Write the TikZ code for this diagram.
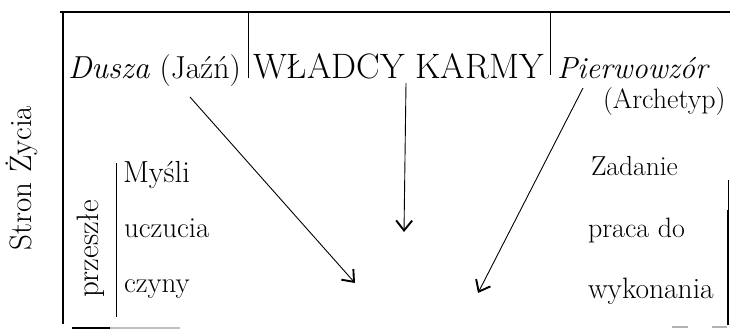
\documentclass[tikz,border=0pt]{standalone}
\usetikzlibrary{arrows.meta}
\begin{document}
\begin{tikzpicture}[x=1pt,y=-1pt,
  frame/.style={line width=2.8pt,line cap=butt},
  thin/.style={line width=1pt},
  lbl/.style={inner sep=0pt,outer sep=0pt,anchor=base west},
  fs/.style={font=\fontsize{#1}{#1}\selectfont},
  arr/.style={line width=0.9pt,-{Straight Barb[length=10pt,width=16pt,line width=1.9pt]}}]
\useasboundingbox (0,0) rectangle (730,330);
% frame
\draw[frame] (60,12) -- (730,12);
\draw[frame] (63,11) -- (63,324);
\draw[thin] (728,180) -- (728,210);
\draw[frame] (728,210) -- (728,325);
\draw[frame] (72,328) -- (110,328);
\draw[line width=2pt,black!25] (110,328) -- (180,328);
\draw[line width=2pt,black!30] (672,327) -- (688,327);
\draw[line width=2pt,black!30] (712,327) -- (727,327);
% dividers
\draw[thin] (248,13) -- (248,78);
\draw[thin] (550,13) -- (550,75);
\draw[thin] (116,163) -- (116,317);
% header texts
\node[lbl,fs=31.8] (dusza) at (68,78) {\textit{Dusza} (Jaźń)};
\node[lbl,fs=35.3] (wladcy) at (253,78) {WŁADCY KARMY};
\node[lbl,fs=30.5] (pierw) at (557,78) {\textit{Pierwowzór}};
\node[lbl,fs=28] (arch) at (603,108) {(Archetyp)};
% side texts
\node[inner sep=0pt,anchor=base,rotate=90,fs=31] (zycie) at (31,178) {Stron Życia};
\node[inner sep=0pt,anchor=base,rotate=90,fs=31] (przesz) at (98,249) {przeszłe};
\node[lbl,fs=30.5] (mysli) at (123,182) {Myśli};
\node[lbl,fs=29] (uczucia) at (124,237) {uczucia};
\node[lbl,fs=29] (czyny) at (124,292) {czyny};
\node[lbl,fs=27.5] (zadanie) at (591,175) {Zadanie};
\node[lbl,fs=28] (praca) at (588,237) {praca do};
\node[lbl,fs=29.5] (wyk) at (588,298) {wykonania};
% arrows
\coordinate (a1s) at (190,97);
\coordinate (a1e) at (355,283);
\coordinate (a2s) at (406,83);
\coordinate (a2e) at (404,232);
\coordinate (a3s) at (583,88);
\coordinate (a3e) at (478,293);
\draw[arr] (a1s) -- (a1e);
\draw[arr] (a2s) -- (a2e);
\draw[arr] (a3s) -- (a3e);
\end{tikzpicture}
\end{document}
